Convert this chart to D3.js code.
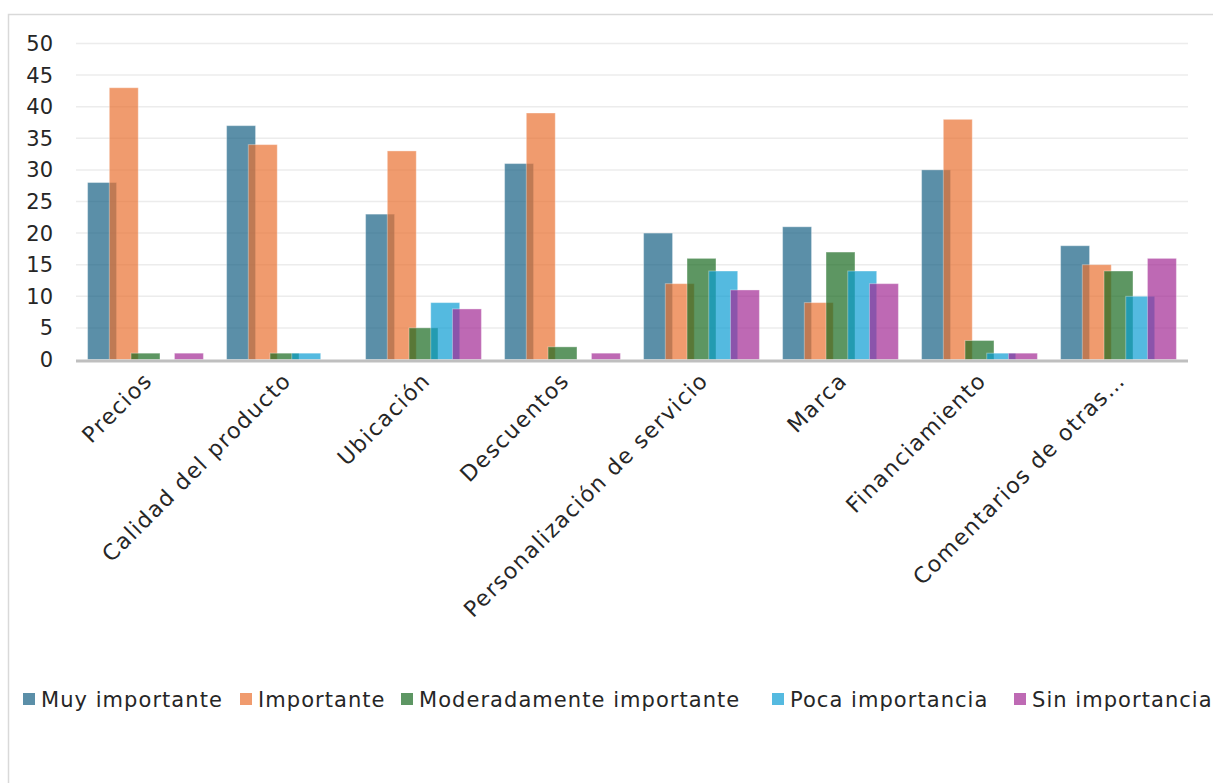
<!DOCTYPE html>
<html>
<head>
<meta charset="utf-8">
<script src="https://cdn.jsdelivr.net/npm/d3@7"></script>
<style>
  body { margin: 0; background: #fff; }
  text { font-family: "DejaVu Sans", sans-serif; fill: #262626; }
</style>
</head>
<body>
<script>
let categories = ["Precios", "Calidad del producto", "Ubicación", "Descuentos",
  "Personalización de servicio", "Marca", "Financiamiento", "Comentarios de otras…"];
let seriesNames = ["Muy importante", "Importante", "Moderadamente importante", "Poca importancia", "Sin importancia"];
let muyImportante = [28, 37, 23, 31, 20, 21, 30, 18];
let importante = [43, 34, 33, 39, 12, 9, 38, 15];
let moderado = [1, 1, 5, 2, 16, 17, 3, 14];
let poca = [0, 1, 9, 0, 14, 14, 1, 10];
let sin = [1, 0, 8, 1, 11, 12, 1, 16];
let yTicks = [0, 5, 10, 15, 20, 25, 30, 35, 40, 45, 50];

let series = [muyImportante, importante, moderado, poca, sin];
let colors = ["#155f83", "#e97030", "#186920", "#0c9dd3", "#a22a94"];
let swatch = ["#5b8fa8", "#f09b6e", "#5d9663", "#55bae0", "#be6ab4"];

let W = 1213, H = 783;
let svg = d3.select("body").append("svg")
  .attr("width", W)
  .attr("height", H);

// chart frame
svg.append("path")
  .attr("d", "M8.5," + H + "V14.5H" + W)
  .attr("fill", "none")
  .attr("stroke", "#d9d9d9")
  .attr("stroke-width", 1.5);

let plotL = 76, plotR = 1188, plotT = 43.5, plotB = 359.5;

let x = d3.scaleBand()
  .domain(categories)
  .range([plotL, plotR])
  .paddingInner(0)
  .paddingOuter(0);

let y = d3.scaleLinear()
  .domain([0, 50])
  .range([plotB, plotT]);

// gridlines
svg.append("g")
  .selectAll("line")
  .data(yTicks.filter(t => t > 0))
  .join("line")
  .attr("x1", plotL)
  .attr("x2", plotR)
  .attr("y1", d => y(d))
  .attr("y2", d => y(d))
  .attr("stroke", "#ececec")
  .attr("stroke-width", 1.5);

// y labels
svg.append("g")
  .selectAll("text")
  .data(yTicks)
  .join("text")
  .attr("x", 53)
  .attr("y", d => y(d))
  .attr("dy", "0.36em")
  .attr("text-anchor", "end")
  .style("font-size", "21px")
  .text(d => d);

// bars: overlapping, each series drawn over the previous one
let groupW = x.bandwidth() * 0.833;
let barW = groupW / (1 + 4 * 0.75);
let step = barW * 0.75;
let off = (x.bandwidth() - groupW) / 2;

series.forEach((vals, s) => {
  svg.append("g")
    .selectAll("rect")
    .data(vals)
    .join("rect")
    .attr("x", (d, i) => x(categories[i]) + off + s * step)
    .attr("y", d => y(d))
    .attr("width", barW)
    .attr("height", d => y(0) - y(d))
    .attr("fill", colors[s])
    .attr("fill-opacity", 0.7)
    .attr("stroke", "#ffffff")
    .attr("stroke-opacity", 0.35)
    .attr("stroke-width", 1);
});

// axis line
svg.append("line")
  .attr("x1", plotL)
  .attr("x2", plotR)
  .attr("y1", plotB + 1.5)
  .attr("y2", plotB + 1.5)
  .attr("stroke", "#bfbfbf")
  .attr("stroke-width", 3);

// x labels
svg.append("g")
  .selectAll("text")
  .data(categories)
  .join("text")
  .attr("transform", d => "translate(" + (x(d) + x.bandwidth() / 2 + 8) + "," + 382 + ") rotate(-45)")
  .attr("text-anchor", "end")
  .style("font-size", "22px")
  .style("letter-spacing", "1.4px")
  .text(d => d);

// legend
let legendX = [23, 240, 401, 772, 1014];
let legend = svg.append("g")
  .selectAll("g")
  .data(seriesNames)
  .join("g")
  .attr("transform", (d, i) => "translate(" + legendX[i] + ",699)");

legend.append("rect")
  .attr("x", 0)
  .attr("y", -6)
  .attr("width", 12)
  .attr("height", 12)
  .attr("fill", (d, i) => swatch[i]);

legend.append("text")
  .attr("x", 18)
  .attr("dy", "0.36em")
  .style("font-size", "21px")
  .style("letter-spacing", "1.05px")
  .text(d => d);
</script>
</body>
</html>
